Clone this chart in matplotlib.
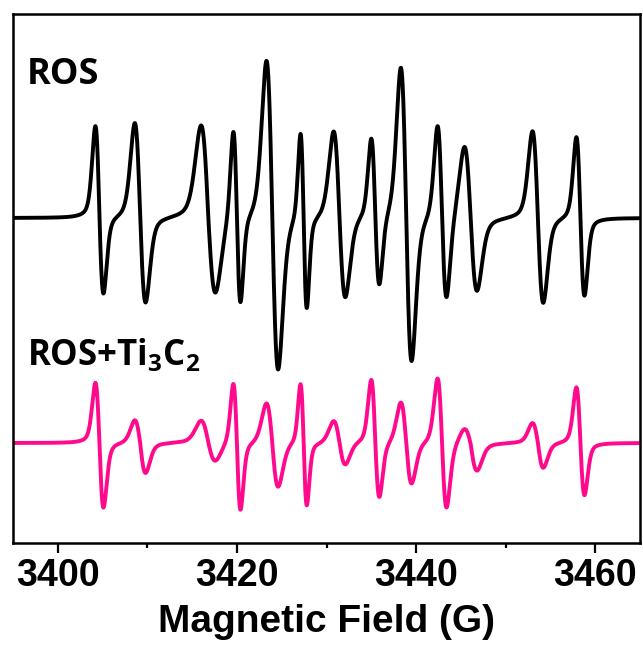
import numpy as np
import matplotlib
matplotlib.use("Agg")
import matplotlib.pyplot as plt
from matplotlib.ticker import MultipleLocator

# Hyperfine line positions (G): field of the upper lobe and of the lower lobe
field_max = [3404.2, 3408.6, 3416.0, 3419.6, 3423.3, 3427.1, 3430.8,
             3435.0, 3438.3, 3442.4, 3445.4, 3453.0, 3457.9]
field_min = [3405.1, 3409.8, 3417.6, 3420.4, 3424.6, 3427.8, 3432.1,
             3435.9, 3439.5, 3443.4, 3446.8, 3454.2, 3458.8]

# Lobe heights (a.u.) above / below the baseline for each line
ros_up = [91, 95, 92, 90, 158, 88, 87, 79, 151, 93, 74, 87, 82]
ros_down = [77, 85, 77, 85, 152, 89, 80, 70, 144, 82, 72, 85, 77]
ti_up = [60, 23, 22, 60, 40, 60, 22, 63, 41, 65, 16, 20, 56]
ti_down = [65, 30, 19, 67, 44, 62, 22, 55, 41, 65, 27, 25, 52]

ros_base = 325
ti_base = 100

PINK = "#ff0a8c"
ETA = 0.3  # Lorentzian share of the pseudo-Voigt line shape


def spectrum(b, up, down):
    """First-derivative pseudo-Voigt lines, each lobe scaled to its own height."""
    y = np.zeros_like(b)
    for bmax, bmin, a_up, a_dn in zip(field_max, field_min, up, down):
        c = 0.5 * (bmax + bmin)
        h = 0.5 * (bmin - bmax)
        u = (b - c) / h
        lor = -(16 / 9) * u / (1 + u ** 2 / 3) ** 2
        gau = -u * np.exp((1 - u ** 2) / 2)
        s = ETA * lor + (1 - ETA) * gau
        y += np.where(u < 0, a_up, a_dn) * s
    return y


b = np.linspace(3395, 3465, 7000)

fig = plt.figure(figsize=(6.43, 6.48), dpi=100)
ax = fig.add_axes([13 / 643, 1 - 543 / 648, 627 / 643, 529 / 648])

ax.plot(b, ros_base + spectrum(b, ros_up, ros_down), color="black", lw=2.8,
        solid_joinstyle="round")
ax.plot(b, ti_base + spectrum(b, ti_up, ti_down), color=PINK, lw=2.8,
        solid_joinstyle="round")

ax.set_xlim(3395, 3465)
ax.set_ylim(0, 529)
ax.set_yticks([])

ax.xaxis.set_major_locator(MultipleLocator(20))
ax.xaxis.set_minor_locator(MultipleLocator(10))
ax.tick_params(axis="x", which="major", direction="out", length=7, width=1.6, pad=4)
ax.tick_params(axis="x", which="minor", direction="out", length=3.5, width=1.6)
for lab in ax.get_xticklabels():
    lab.set_fontfamily("Liberation Sans")
    lab.set_fontweight("bold")
    lab.set_fontsize(27)
for sp in ax.spines.values():
    sp.set_linewidth(1.8)

ax.set_xlabel("Magnetic Field (G)", fontfamily="Liberation Sans",
              fontweight="bold", fontsize=28, labelpad=7)

plt.rcParams["mathtext.fontset"] = "custom"
plt.rcParams["mathtext.rm"] = "Open Sans:bold"
plt.rcParams["mathtext.bf"] = "Open Sans:bold"
ax.text(0.022, 0.868, "ROS", transform=ax.transAxes, fontfamily="Open Sans",
        fontweight="bold", fontsize=26, va="baseline")
ax.text(0.022, 0.336, r"ROS+Ti$_{\mathrm{3}}$C$_{\mathrm{2}}$", transform=ax.transAxes,
        fontfamily="Open Sans", fontweight="bold", fontsize=25, va="baseline")

fig.savefig("out.png", dpi=100)
